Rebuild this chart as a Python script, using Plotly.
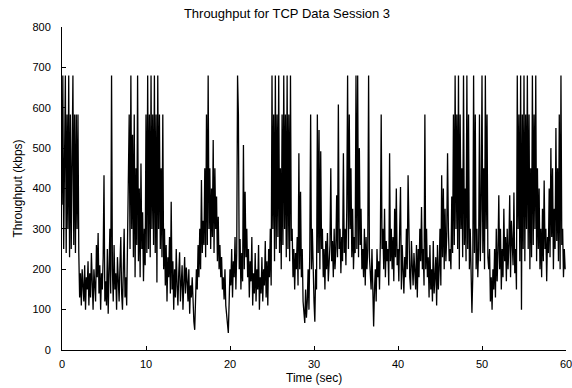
import plotly.graph_objects as go

dt = 0.1
seg_00_10 = [360,680,250,583,680,240,583,300,680,230,
             583,250,583,680,260,583,240,583,300,583,
             240,130,190,110,200,160,120,210,100,180,
             150,220,110,190,130,240,170,100,200,150,
             120,260,180,290,140,210,100,190,150,230,
             433,120,170,110,250,90,180,300,140,680,
             200,120,260,150,190,100,230,170,120,210,
             280,140,100,200,300,130,180,110,240,350,
             583,250,680,300,533,230,583,180,450,260,
             680,220,400,180,462,250,341,170,300,210]
seg_10_20 = [583,240,680,250,583,230,680,300,583,260,
             680,240,583,167,680,300,583,250,450,230,
             583,200,300,160,260,120,230,180,280,140,
             367,150,220,100,200,130,250,160,110,190,
             242,120,180,210,100,150,230,140,204,170,
             120,200,90,160,130,180,100,70,50,120,
             200,150,260,180,300,200,421,240,320,260,
             450,230,583,260,680,300,450,250,400,280,
             520,240,450,300,380,220,330,200,260,180,
             230,150,180,125,200,110,90,60,42,120]
seg_20_30 = [200,160,250,130,220,180,280,150,240,680,
             583,200,275,150,240,170,508,200,392,230,
             300,180,250,130,220,170,280,110,190,140,
             240,120,200,150,260,100,180,140,230,120,
             200,160,270,130,220,110,250,180,300,160,
             680,300,583,220,680,250,583,280,680,240,
             450,200,583,260,680,300,583,230,680,250,
             583,220,680,270,300,180,250,150,240,200,
             280,160,487,200,392,180,250,120,90,67,
             150,80,120,200,100,250,583,200,300,150]
seg_30_40 = [120,70,200,150,583,240,545,200,492,250,
             300,180,250,150,270,200,290,170,230,260,
             450,220,270,180,300,200,250,383,230,608,
             250,300,190,280,220,487,240,300,210,350,
             680,250,583,300,450,230,350,200,280,240,
             680,250,680,230,500,260,350,200,250,180,
             300,160,280,200,250,680,230,200,150,250,
             100,58,150,200,120,250,180,220,150,270,
             583,250,300,200,350,180,270,220,250,160,
             487,220,300,200,280,170,350,230,400,210]
seg_40_50 = [250,170,300,404,150,260,200,140,230,180,
             300,200,433,250,180,150,270,210,160,240,
             200,150,260,130,250,180,300,220,354,200,
             250,160,583,200,300,180,230,130,260,150,
             200,120,270,140,180,230,110,260,150,200,
             300,160,433,230,400,200,350,220,280,487,
             300,220,250,200,380,240,583,260,680,300,
             583,250,680,200,583,300,450,230,680,260,
             400,220,680,250,583,200,300,150,92,180,
             680,240,583,200,300,180,250,583,220,350]
seg_50_60 = [680,240,450,200,680,300,583,230,200,250,
             120,180,100,200,150,250,130,300,170,240,
             383,200,300,150,250,180,350,220,280,170,
             300,200,260,383,180,320,250,210,390,190,
             250,150,680,300,583,220,680,100,583,250,
             680,220,583,300,680,250,583,200,450,230,
             680,260,583,300,680,220,450,250,400,200,
             300,180,350,220,420,250,300,170,280,240,
             400,230,500,280,450,200,350,250,550,270,
             450,220,583,200,680,260,300,180,250,200]

throughput = seg_00_10 + seg_10_20 + seg_20_30 + seg_30_40 + seg_40_50 + seg_50_60
time = [round(i * dt, 2) for i in range(len(throughput))]

x_ticks = [0, 10, 20, 30, 40, 50, 60]
y_ticks = [0, 100, 200, 300, 400, 500, 600, 700, 800]

W, H = 572, 388
L, R, T, B = 62, 6, 27, 38

fig = go.Figure()
fig.add_trace(go.Scatter(x=time, y=throughput, mode="lines",
                         line=dict(color="black", width=1.3), showlegend=False))

font = dict(family="Liberation Sans, Arial, sans-serif", size=11, color="black")
fig.update_layout(
    width=W, height=H,
    margin=dict(l=L, r=R, t=T, b=B, autoexpand=False),
    paper_bgcolor="white", plot_bgcolor="white",
    font=font,
    title=dict(text="Throughput for TCP Data Session 3", xref="container",
               x=287 / W, xanchor="center", yref="container",
               y=1 - 13 / H, yanchor="middle", font=dict(size=13)),
    annotations=[
        dict(text="Time (sec)", xref="paper", yref="paper",
             x=0.5, y=-(378 - (H - B)) / (H - T - B), xanchor="center",
             yanchor="middle", showarrow=False, font=dict(size=12)),
        dict(text="Throughput (kbps)", xref="paper", yref="paper",
             x=-(L - 17) / (W - L - R), y=0.5, xanchor="center",
             yanchor="middle", textangle=-90, showarrow=False, font=dict(size=12)),
    ],
)
fig.update_xaxes(range=[0, 60], tickvals=x_ticks, ticktext=[str(v) for v in x_ticks],
                 showline=True, linecolor="black", linewidth=1, ticks="inside",
                 ticklen=4, tickcolor="black", showgrid=False, zeroline=False,
                 automargin=False, mirror=False, ticklabeloverflow="allow",
                 ticklabelstandoff=4)
fig.update_yaxes(range=[0, 800], tickvals=y_ticks, ticktext=[str(v) for v in y_ticks],
                 showline=True, linecolor="black", linewidth=1, ticks="inside",
                 ticklen=4, tickcolor="black", showgrid=False, zeroline=False,
                 automargin=False, mirror=False, ticklabeloverflow="allow",
                 ticklabelstandoff=8)

fig.write_html("out.html", config={"displayModeBar": False},
               post_script="document.body.style.margin='0';document.body.style.padding='0';")
